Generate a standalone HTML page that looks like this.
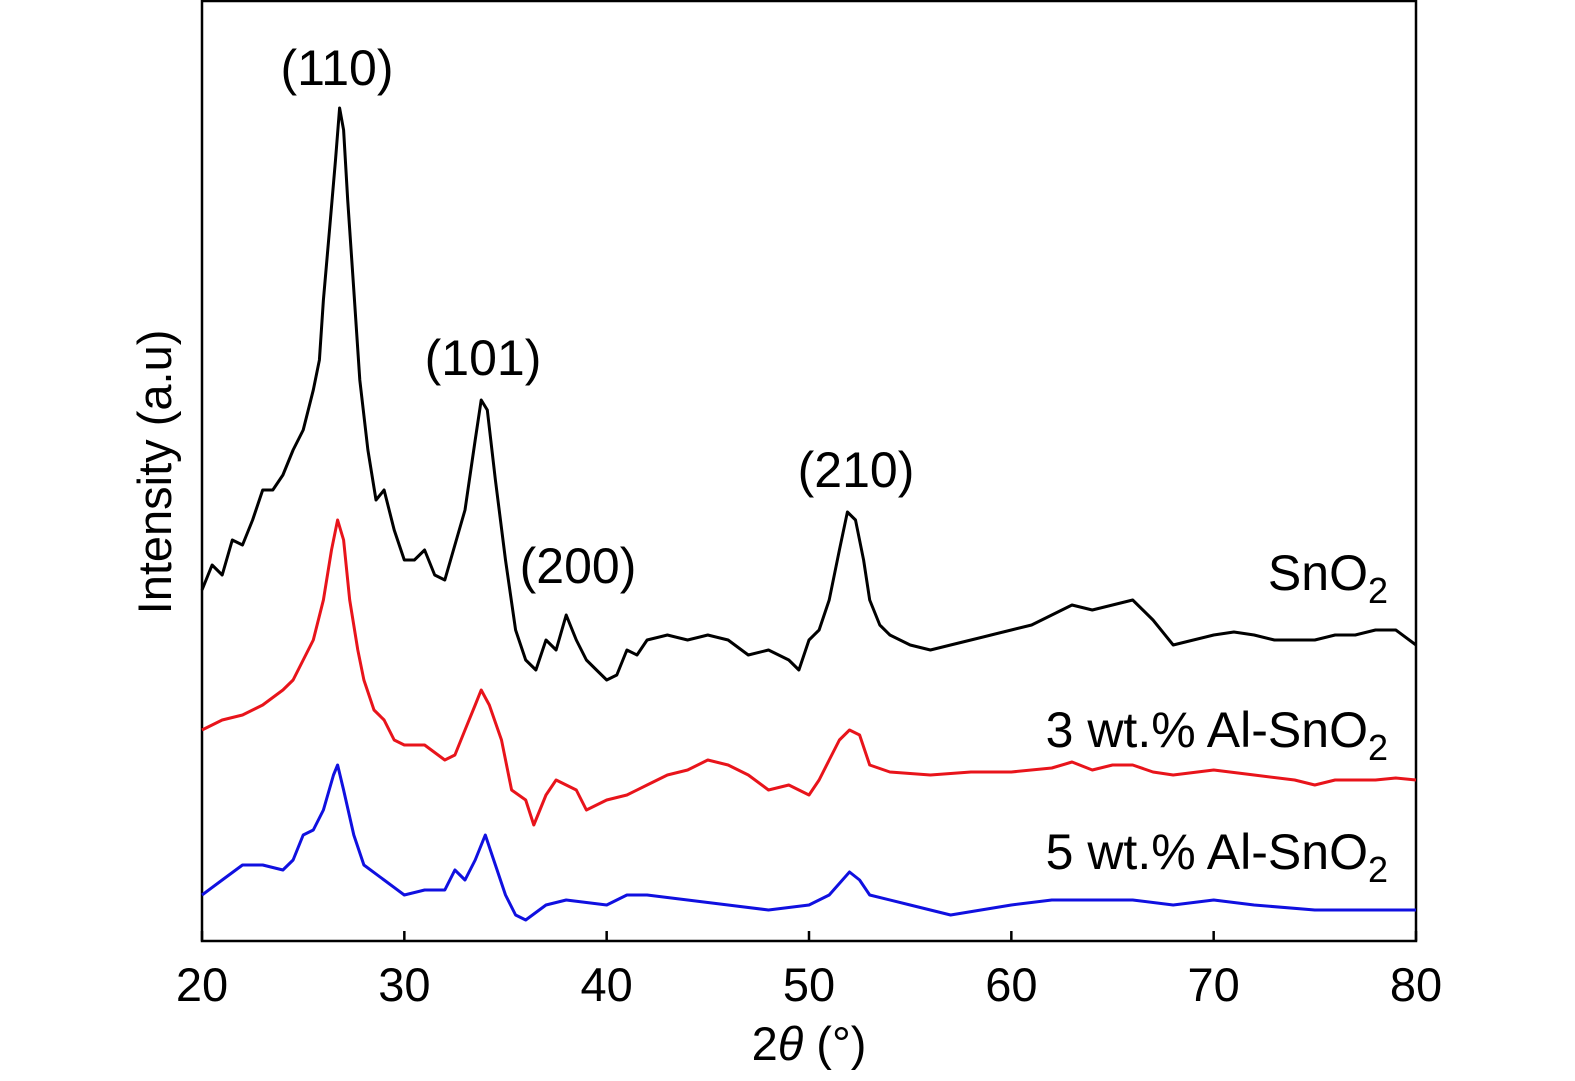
<!DOCTYPE html>
<html><head><meta charset="utf-8"><style>
html,body{margin:0;padding:0;background:#fff;overflow:hidden}
svg{display:block}
svg text{font-family:"Liberation Sans","DejaVu Sans",sans-serif;fill:#000}
</style></head><body>
<svg id="chart" width="1575" height="1081" xmlns="http://www.w3.org/2000/svg">
<rect x="202" y="1" width="1214" height="940" fill="none" stroke="#000" stroke-width="2.5"/>
<g id="xticks"></g>
<g id="series"></g>
<text x="809" y="1060" font-size="47" text-anchor="middle">2<tspan font-style="italic">θ</tspan> (°)</text>
<text transform="translate(171,472) rotate(-90)" font-size="47" text-anchor="middle">Intensity (a.u)</text>
<text x="337" y="85" font-size="50" text-anchor="middle">(110)</text>
<text x="483" y="375" font-size="50" text-anchor="middle">(101)</text>
<text x="578" y="583" font-size="50" text-anchor="middle">(200)</text>
<text x="856" y="487" font-size="50" text-anchor="middle">(210)</text>
<text x="1388" y="590" font-size="50" text-anchor="end">SnO<tspan font-size="36" dy="13">2</tspan></text>
<text x="1388" y="747" font-size="50" text-anchor="end">3 wt.% Al-SnO<tspan font-size="36" dy="13">2</tspan></text>
<text x="1388" y="869" font-size="50" text-anchor="end">5 wt.% Al-SnO<tspan font-size="36" dy="13">2</tspan></text>
</svg>
<script>
const xTicks=[20,30,40,50,60,70,80];
const blackX=[20,20.5,21,21.5,22,22.5,23,23.5,24,24.5,25,25.5,25.8,26,26.3,26.6,26.8,27,27.2,27.5,27.8,28.2,28.6,29,29.5,30,30.5,31,31.5,32,32.5,33,33.5,33.8,34.1,34.5,35,35.5,36,36.5,37,37.5,38,38.5,39,39.5,40,40.5,41,41.5,42,43,44,45,46,47,48,49,49.5,50,50.5,51,51.5,51.9,52.3,52.7,53,53.5,54,55,56,57,58,59,60,61,62,63,64,65,66,67,68,69,70,71,72,73,74,75,76,77,78,79,80];
const blackY=[351,376,366,401,396,421,451,451,466,491,511,551,581,641,711,781,833,811,741,651,561,491,441,451,411,381,381,391,366,361,396,431,501,541,531,461,381,311,281,271,301,291,326,301,281,271,261,266,291,286,301,306,301,306,301,286,291,281,271,301,311,341,391,429,421,381,341,316,306,296,291,296,301,306,311,316,326,336,331,336,341,321,296,301,306,309,306,301,301,301,306,306,311,311,296];
const redX=[20,21,22,23,24,24.5,25,25.5,26,26.4,26.7,27,27.3,27.7,28,28.5,29,29.5,30,31,32,32.5,33,33.5,33.8,34.2,34.8,35.3,36,36.4,37,37.5,38,38.5,39,40,41,42,43,44,45,46,47,48,49,50,50.5,51,51.5,52,52.5,53,54,56,58,60,62,63,64,65,66,67,68,70,72,74,75,76,78,79,80];
const redY=[211,221,226,236,251,261,281,301,341,391,421,401,341,291,261,231,221,201,196,196,181,186,211,236,251,236,201,151,141,116,146,161,156,151,131,141,146,156,166,171,181,176,166,151,156,146,161,181,201,211,206,176,169,166,169,169,173,179,171,176,176,169,166,171,166,161,156,161,161,163,161];
const blueX=[20,21,22,23,24,24.5,25,25.5,26,26.5,26.7,27,27.5,28,29,30,31,32,32.5,33,33.5,34,34.5,35,35.5,36,37,38,40,41,42,44,46,48,50,51,52,52.5,53,55,57,60,62,64,66,68,70,72,75,78,80];
const blueY=[46,61,76,76,71,81,106,111,131,166,176,151,106,76,61,46,51,51,71,61,81,106,76,46,26,21,36,41,36,46,46,41,36,31,36,46,69,61,46,36,26,36,41,41,41,36,41,36,31,31,31];
const L=202,R=1416,T=0,B=941;
function xs(v){return L+(v-20)/60*(R-L);}
function ys(v){return B-(v/941)*(B-T);}
const NS="http://www.w3.org/2000/svg";
const gx=document.getElementById('xticks');
xTicks.forEach(t=>{
  const ln=document.createElementNS(NS,'line');
  
  
  ln.setAttribute('x1',xs(t));ln.setAttribute('x2',xs(t));
  ln.setAttribute('y1',B);ln.setAttribute('y2',B-10);
  ln.setAttribute('stroke','#000');ln.setAttribute('stroke-width','2.5');
  gx.appendChild(ln);
  const tx=document.createElementNS(NS,'text');
  
  
  tx.setAttribute('x',xs(t));tx.setAttribute('y',1001);
  tx.setAttribute('font-size','47');tx.setAttribute('text-anchor','middle');
  tx.textContent=t;gx.appendChild(tx);
});
const gs=document.getElementById('series');
[[blackX,blackY,'#000','sno2-line'],[redX,redY,'#e8141b','3wt-al-sno2-line'],[blueX,blueY,'#1010e0','5wt-al-sno2-line']].forEach(s=>{
  const p=document.createElementNS(NS,'path');
  
  
  p.setAttribute('d',s[0].map((x,i)=>(i?'L':'M')+xs(x).toFixed(1)+','+ys(s[1][i]).toFixed(1)).join(''));
  p.setAttribute('fill','none');p.setAttribute('stroke',s[2]);p.setAttribute('stroke-width','3');
  p.setAttribute('stroke-linejoin','round');
  gs.appendChild(p);
});
</script>
</body></html>
